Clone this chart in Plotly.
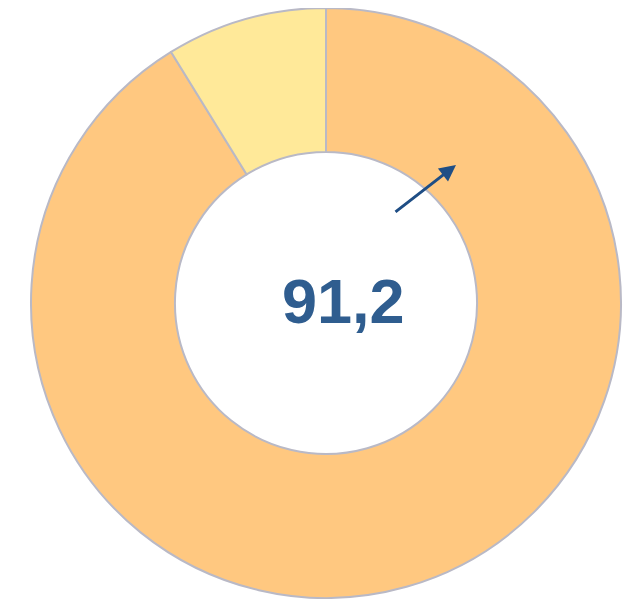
import plotly.graph_objects as go

labels = ["Share", "Rest"]
values = [91.2, 8.8]
colors = ["#FFC880", "#FFE999"]
center_text = "91,2"

W, H = 639, 599
# the page body adds an 8px margin, so figure coordinates are page - 8
x0, x1 = 22, 614
y0, y1 = 0, 590

fig = go.Figure()
fig.add_trace(go.Pie(
    labels=labels,
    values=values,
    hole=0.512,
    sort=False,
    direction="clockwise",
    rotation=0,
    marker=dict(colors=colors, line=dict(color="#B9B9C6", width=2)),
    textinfo="none",
    hoverinfo="label+value",
    showlegend=False,
    domain=dict(x=[x0 / W, x1 / W], y=[1 - y1 / H, 1 - y0 / H]),
))

fig.add_annotation(
    x=335 / W, y=1 - 293 / H, xref="paper", yref="paper",
    text=f"<b>{center_text}</b>", showarrow=False,
    font=dict(family="Liberation Sans, Arial", size=63, color="#2F5D8F"),
)

fig.add_annotation(
    x=448 / W, y=1 - 157 / H, xref="paper", yref="paper",
    ax=386 - 448, ay=205 - 157, axref="pixel", ayref="pixel",
    text="", showarrow=True, arrowhead=2, arrowsize=1.1, arrowwidth=3,
    arrowcolor="#1F4E85",
)

fig.update_layout(
    width=W, height=H,
    margin=dict(l=0, r=0, t=0, b=0),
    paper_bgcolor="white", plot_bgcolor="white",
)

fig.write_html("out.html")
